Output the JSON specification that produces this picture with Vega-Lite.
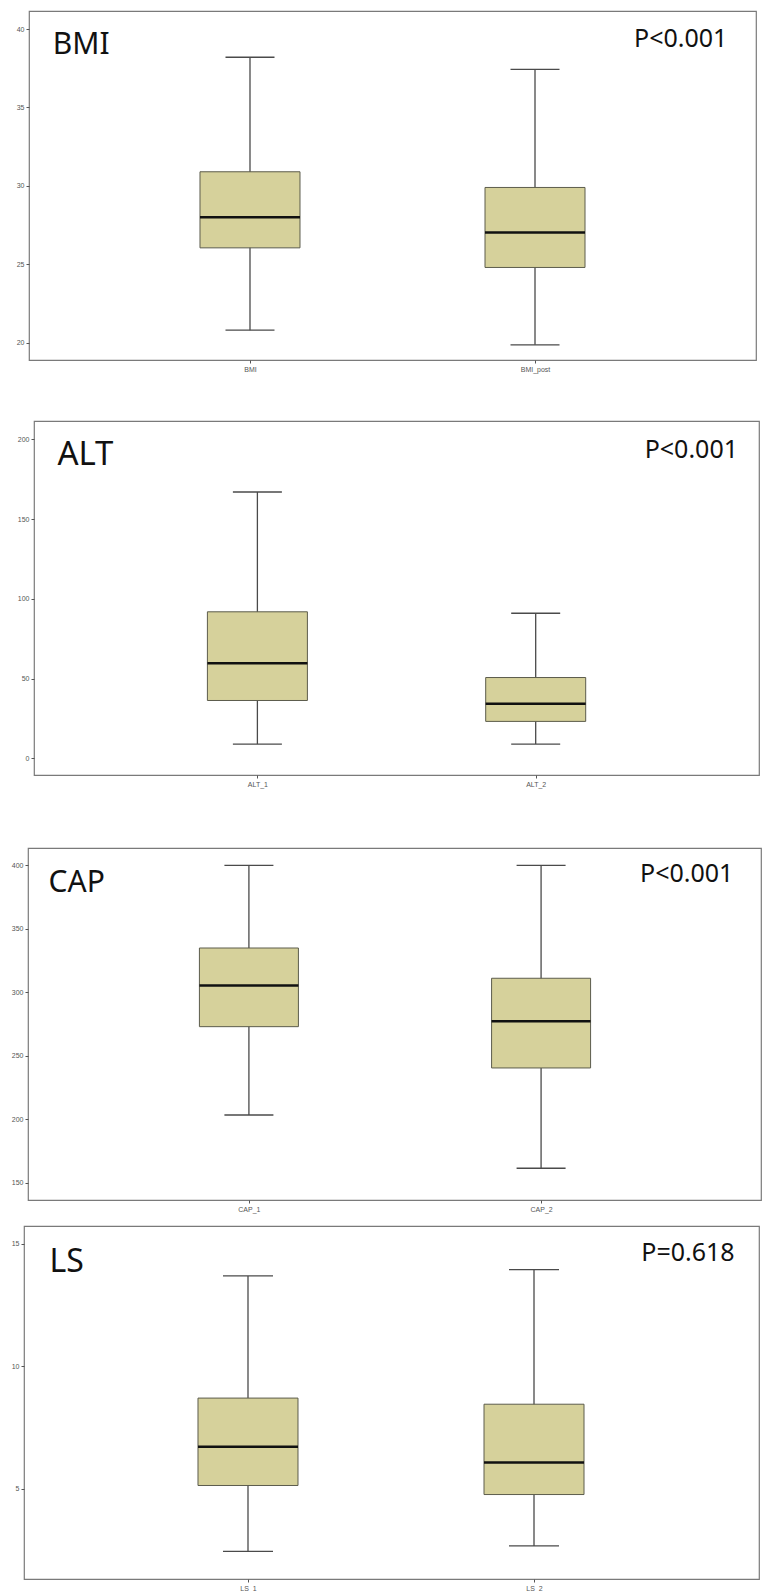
{
  "$schema": "https://vega.github.io/schema/vega-lite/v6.json",
  "padding": {"top": 10, "left": 0, "right": 0, "bottom": 0},
  "background": "white",
  "spacing": 0,
  "config": {
    "view": {"stroke": "#7a7a7a", "strokeWidth": 1.2},
    "tick": {"opacity": 1},
    "bar": {"opacity": 1},
    "axis": {"domain": false, "grid": false, "title": null, "tickSize": 3, "tickColor": "#555", "tickWidth": 1, "labelColor": "#555", "labelFont": "Liberation Sans", "labelFontSize": 7, "labelPadding": 2}
  },
  "datasets": {
    "none": [],
    "bmi": [
      {"var": "BMI", "pos": 1, "lower": 20.8, "q1": 26.05, "median": 28.0, "q3": 30.9, "upper": 38.2},
      {"var": "BMI_post", "pos": 2, "lower": 19.87, "q1": 24.8, "median": 27.03, "q3": 29.9, "upper": 37.43}
    ],
    "alt": [
      {"var": "ALT_1", "pos": 1, "lower": 9, "q1": 36.3, "median": 59.7, "q3": 91.9, "upper": 167},
      {"var": "ALT_2", "pos": 2, "lower": 9, "q1": 23.2, "median": 34.3, "q3": 50.7, "upper": 91}
    ],
    "cap": [
      {"var": "CAP_1", "pos": 1, "lower": 203.5, "q1": 273, "median": 305.3, "q3": 334.9, "upper": 400},
      {"var": "CAP_2", "pos": 2, "lower": 161.6, "q1": 240.5, "median": 277.2, "q3": 311.1, "upper": 400}
    ],
    "ls": [
      {"var": "LS_1", "pos": 1, "lower": 2.44, "q1": 5.13, "median": 6.71, "q3": 8.7, "upper": 13.69},
      {"var": "LS_2", "pos": 2, "lower": 2.66, "q1": 4.76, "median": 6.07, "q3": 8.45, "upper": 13.95}
    ],
    "bmi_name": [{"label": "BMI", "pos": 0.3078, "y": 38.39}],
    "bmi_p": [{"label": "P<0.001", "pos": 2.675, "y": 38.87}],
    "alt_name": [{"label": "ALT", "pos": 0.2814, "y": 183.7}],
    "alt_p": [{"label": "P<0.001", "pos": 2.727, "y": 188.5}],
    "cap_name": [{"label": "CAP", "pos": 0.3144, "y": 378.8}],
    "cap_p": [{"label": "P<0.001", "pos": 2.658, "y": 386.6}],
    "ls_name": [{"label": "LS", "pos": 0.3063, "y": 13.87}],
    "ls_p": [{"label": "P=0.618", "pos": 2.7014, "y": 14.28}]
  },
  "vconcat": [
    {"spacing": 0, "hconcat": [
      {"width": 1, "height": 1, "view": {"stroke": null}, "data": {"name": "none"}, "mark": "point"},
      {
      "width": 727, "height": 349,
      "data": {"name": "bmi"},
      "encoding": {
        "x": {"field": "pos", "type": "quantitative", "scale": {"domain": [0.2246, 2.7754], "nice": false, "zero": false, "padding": 0},
          "axis": {"values": [1, 2], "labelExpr": "datum.value === 1 ? 'BMI' : 'BMI_post'", "minExtent": 58.5, "maxExtent": 58.5}}
      },
      "layer": [
        {"mark": {"type": "rule", "color": "#4a4a4a", "strokeWidth": 1.3},
         "encoding": {"y": {"field": "lower", "type": "quantitative", "scale": {"domain": [18.9, 41.15], "nice": false, "zero": false},
           "axis": {"values": [20, 25, 30, 35, 40], "minExtent": 27, "maxExtent": 27}}, "y2": {"field": "upper"}}},
        {"mark": {"type": "tick", "orient": "horizontal", "size": 49, "thickness": 1.3, "color": "#4a4a4a"}, "encoding": {"y": {"field": "lower", "type": "quantitative"}}},
        {"mark": {"type": "tick", "orient": "horizontal", "size": 49, "thickness": 1.3, "color": "#4a4a4a"}, "encoding": {"y": {"field": "upper", "type": "quantitative"}}},
        {"mark": {"type": "bar", "orient": "vertical", "size": 100, "fill": "#d6d19b", "stroke": "#5c5c4c", "strokeWidth": 1}, "encoding": {"y": {"field": "q1", "type": "quantitative"}, "y2": {"field": "q3"}}},
        {"mark": {"type": "tick", "orient": "horizontal", "size": 100, "thickness": 2.5, "color": "#111111"}, "encoding": {"y": {"field": "median", "type": "quantitative"}}},
        {"data": {"name": "bmi_name"}, "mark": {"type": "text", "font": "Noto Sans", "fontSize": 30, "align": "left", "baseline": "alphabetic", "color": "#111"},
         "encoding": {"y": {"field": "y", "type": "quantitative"}, "text": {"field": "label"}}},
        {"data": {"name": "bmi_p"}, "mark": {"type": "text", "font": "Noto Sans", "fontSize": 25, "align": "right", "baseline": "alphabetic", "color": "#111"},
         "encoding": {"y": {"field": "y", "type": "quantitative"}, "text": {"field": "label"}}}
      ]
    }]},
    {"spacing": 0, "hconcat": [
      {"width": 1, "height": 1, "view": {"stroke": null}, "data": {"name": "none"}, "mark": "point"},
      {
      "width": 725, "height": 354,
      "data": {"name": "alt"},
      "encoding": {
        "x": {"field": "pos", "type": "quantitative", "scale": {"domain": [0.1973, 2.8024], "nice": false, "zero": false, "padding": 0},
          "axis": {"values": [1, 2], "labelExpr": "datum.value === 1 ? 'ALT_1' : 'ALT_2'", "minExtent": 70.7, "maxExtent": 70.7}}
      },
      "layer": [
        {"mark": {"type": "rule", "color": "#4a4a4a", "strokeWidth": 1.3},
         "encoding": {"y": {"field": "lower", "type": "quantitative", "scale": {"domain": [-10.4, 211.5], "nice": false, "zero": false},
           "axis": {"values": [0, 50, 100, 150, 200], "minExtent": 32, "maxExtent": 32}}, "y2": {"field": "upper"}}},
        {"mark": {"type": "tick", "orient": "horizontal", "size": 49, "thickness": 1.3, "color": "#4a4a4a"}, "encoding": {"y": {"field": "lower", "type": "quantitative"}}},
        {"mark": {"type": "tick", "orient": "horizontal", "size": 49, "thickness": 1.3, "color": "#4a4a4a"}, "encoding": {"y": {"field": "upper", "type": "quantitative"}}},
        {"mark": {"type": "bar", "orient": "vertical", "size": 100, "fill": "#d6d19b", "stroke": "#5c5c4c", "strokeWidth": 1}, "encoding": {"y": {"field": "q1", "type": "quantitative"}, "y2": {"field": "q3"}}},
        {"mark": {"type": "tick", "orient": "horizontal", "size": 100, "thickness": 2.5, "color": "#111111"}, "encoding": {"y": {"field": "median", "type": "quantitative"}}},
        {"data": {"name": "alt_name"}, "mark": {"type": "text", "font": "Noto Sans", "fontSize": 33, "align": "left", "baseline": "alphabetic", "color": "#111"},
         "encoding": {"y": {"field": "y", "type": "quantitative"}, "text": {"field": "label"}}},
        {"data": {"name": "alt_p"}, "mark": {"type": "text", "font": "Noto Sans", "fontSize": 25, "align": "right", "baseline": "alphabetic", "color": "#111"},
         "encoding": {"y": {"field": "y", "type": "quantitative"}, "text": {"field": "label"}}}
      ]
    }]},
    {"spacing": 0, "hconcat": [
      {"width": 1, "height": 1, "view": {"stroke": null}, "data": {"name": "none"}, "mark": "point"},
      {
      "width": 733, "height": 352,
      "data": {"name": "cap"},
      "encoding": {
        "x": {"field": "pos", "type": "quantitative", "scale": {"domain": [0.2439, 2.7527], "nice": false, "zero": false, "padding": 0},
          "axis": {"values": [1, 2], "labelExpr": "datum.value === 1 ? 'CAP_1' : 'CAP_2'", "minExtent": 23.8, "maxExtent": 23.8}}
      },
      "layer": [
        {"mark": {"type": "rule", "color": "#4a4a4a", "strokeWidth": 1.3},
         "encoding": {"y": {"field": "lower", "type": "quantitative", "scale": {"domain": [136.6, 413.6], "nice": false, "zero": false},
           "axis": {"values": [150, 200, 250, 300, 350, 400], "minExtent": 25.5, "maxExtent": 25.5}}, "y2": {"field": "upper"}}},
        {"mark": {"type": "tick", "orient": "horizontal", "size": 49, "thickness": 1.3, "color": "#4a4a4a"}, "encoding": {"y": {"field": "lower", "type": "quantitative"}}},
        {"mark": {"type": "tick", "orient": "horizontal", "size": 49, "thickness": 1.3, "color": "#4a4a4a"}, "encoding": {"y": {"field": "upper", "type": "quantitative"}}},
        {"mark": {"type": "bar", "orient": "vertical", "size": 99, "fill": "#d6d19b", "stroke": "#5c5c4c", "strokeWidth": 1}, "encoding": {"y": {"field": "q1", "type": "quantitative"}, "y2": {"field": "q3"}}},
        {"mark": {"type": "tick", "orient": "horizontal", "size": 99, "thickness": 2.5, "color": "#111111"}, "encoding": {"y": {"field": "median", "type": "quantitative"}}},
        {"data": {"name": "cap_name"}, "mark": {"type": "text", "font": "Noto Sans", "fontSize": 30, "align": "left", "baseline": "alphabetic", "color": "#111"},
         "encoding": {"y": {"field": "y", "type": "quantitative"}, "text": {"field": "label"}}},
        {"data": {"name": "cap_p"}, "mark": {"type": "text", "font": "Noto Sans", "fontSize": 25, "align": "right", "baseline": "alphabetic", "color": "#111"},
         "encoding": {"y": {"field": "y", "type": "quantitative"}, "text": {"field": "label"}}}
      ]
    }]},
    {"spacing": 0, "hconcat": [
      {"width": 1, "height": 1, "view": {"stroke": null}, "data": {"name": "none"}, "mark": "point"},
      {
      "width": 735, "height": 353,
      "data": {"name": "ls"},
      "encoding": {
        "x": {"field": "pos", "type": "quantitative", "scale": {"domain": [0.2168, 2.7867], "nice": false, "zero": false, "padding": 0},
          "axis": {"values": [1, 2], "labelExpr": "datum.value === 1 ? 'LS_1' : 'LS_2'"}}
      },
      "layer": [
        {"mark": {"type": "rule", "color": "#4a4a4a", "strokeWidth": 1.3},
         "encoding": {"y": {"field": "lower", "type": "quantitative", "scale": {"domain": [1.31, 15.73], "nice": false, "zero": false},
           "axis": {"values": [5, 10, 15], "minExtent": 21.5, "maxExtent": 21.5}}, "y2": {"field": "upper"}}},
        {"mark": {"type": "tick", "orient": "horizontal", "size": 50, "thickness": 1.3, "color": "#4a4a4a"}, "encoding": {"y": {"field": "lower", "type": "quantitative"}}},
        {"mark": {"type": "tick", "orient": "horizontal", "size": 50, "thickness": 1.3, "color": "#4a4a4a"}, "encoding": {"y": {"field": "upper", "type": "quantitative"}}},
        {"mark": {"type": "bar", "orient": "vertical", "size": 100, "fill": "#d6d19b", "stroke": "#5c5c4c", "strokeWidth": 1}, "encoding": {"y": {"field": "q1", "type": "quantitative"}, "y2": {"field": "q3"}}},
        {"mark": {"type": "tick", "orient": "horizontal", "size": 100, "thickness": 2.5, "color": "#111111"}, "encoding": {"y": {"field": "median", "type": "quantitative"}}},
        {"data": {"name": "ls_name"}, "mark": {"type": "text", "font": "Noto Sans", "fontSize": 32, "align": "left", "baseline": "alphabetic", "color": "#111"},
         "encoding": {"y": {"field": "y", "type": "quantitative"}, "text": {"field": "label"}}},
        {"data": {"name": "ls_p"}, "mark": {"type": "text", "font": "Noto Sans", "fontSize": 25, "align": "right", "baseline": "alphabetic", "color": "#111"},
         "encoding": {"y": {"field": "y", "type": "quantitative"}, "text": {"field": "label"}}}
      ]
    }]}
  ]
}
